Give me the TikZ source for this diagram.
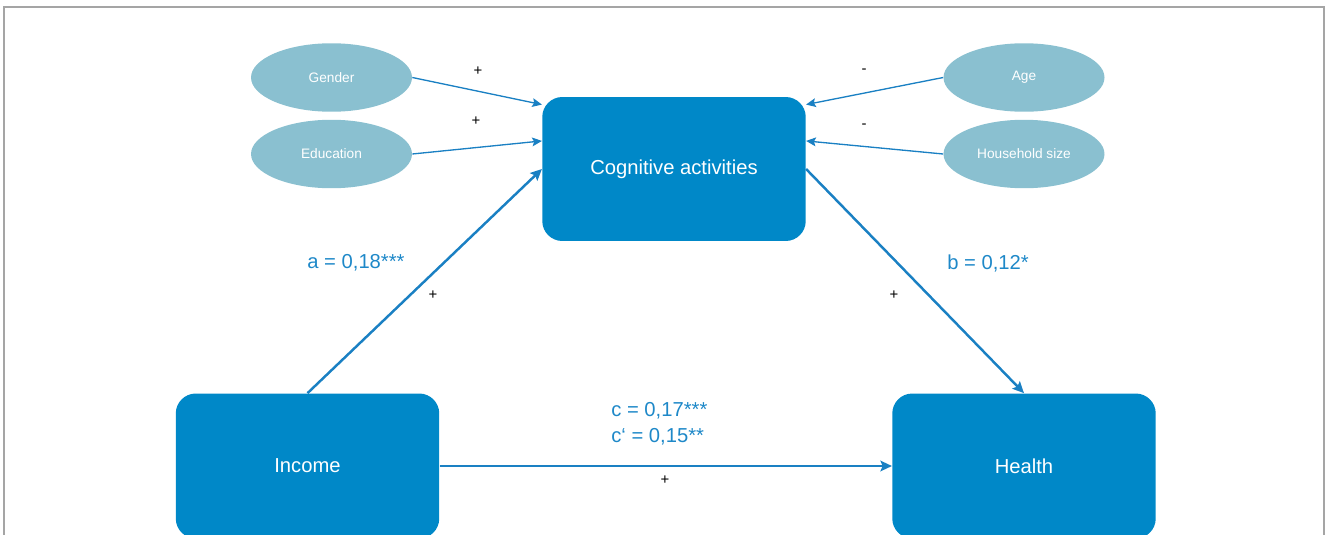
\documentclass[tikz,border=0pt]{standalone}
\usepackage{fontspec}
\setmainfont{Liberation Sans}
\usetikzlibrary{shapes.geometric}
\usetikzlibrary{arrows.meta}

\definecolor{boxblue}{RGB}{0,136,200}
\definecolor{ovalblue}{RGB}{138,192,208}
\definecolor{lineblue}{RGB}{26,128,195}
\definecolor{textblue}{RGB}{30,136,200}
\definecolor{framegray}{RGB}{165,165,165}

\begin{document}
\begin{tikzpicture}[
    x=0.02cm, y=-0.02cm,
    var/.style={rectangle,rounded corners=0.4cm,fill=boxblue,text=white,
        minimum width=5.27cm,minimum height=2.9cm,inner sep=0pt,
        font=\fontsize{11.5}{14}\selectfont},
    ctrl/.style={ellipse,fill=ovalblue,text=white,minimum width=3.22cm,
        minimum height=1.37cm,inner sep=0pt,font=\fontsize{7.8}{9}\selectfont},
    coef/.style={text=textblue,font=\fontsize{11.5}{14}\selectfont,inner sep=0pt},
    sign/.style={text=black,font=\fontsize{8.5}{9}\selectfont,inner sep=0pt},
    thin/.style={-{Stealth[length=5.5pt,width=5pt,inset=1pt]},draw=lineblue,fill=lineblue,line width=0.75pt},
    path/.style={-{Stealth[length=6.5pt,width=6pt,inset=1.2pt]},draw=lineblue,fill=lineblue,line width=1.4pt}
]
\useasboundingbox (0,0) rectangle (1328,534);
\clip (0,0) rectangle (1328,534);

% Rahmen (unten offen)
\draw[framegray,line width=0.8pt] (4,545) -- (4,7) -- (1324,7) -- (1324,545);

% Hauptvariablen
\node[var,minimum height=2.88cm] (cog) at (674,169) {\raisebox{-2pt}{Cognitive activities}};
\node[var] (income) at (307.5,466) {Income};
\node[var] (health) at (1024,466) {Health};

% Kontrollvariablen
\node[ctrl] (gender) at (331.5,77.5) {Gender};
\node[ctrl] (edu) at (331.5,154) {Education};
\node[ctrl] (age) at (1024,77.5) {Age};
\node[ctrl] (hh) at (1024,154) {Household size};

% Pfeile der Kontrollvariablen
\draw[thin] (gender.east) -- (cog.154);
\draw[thin] (edu.east) -- (cog.168);
\draw[thin] (age.west) -- (cog.26);
\draw[thin] (hh.west) -- (cog.12);

% Mediationspfade
\draw[path] (income.north) -- (cog.west);
\draw[path] (cog.east) -- (health.north);
\draw[path] (income.east) -- (health.west);

% Koeffizienten
\node[coef] (a) at (356,263) {a = 0,18***};
\node[coef] (b) at (988,263) {b = 0,12*};
\node[coef,anchor=west] (c) at (611,411) {c = 0,17***};
\node[coef,anchor=west] (cc) at (611,437) {c‘ = 0,15**};

% Vorzeichen
\node[sign] (s1) at (478,71) {+};
\node[sign] (s2) at (476,121) {+};
\node[sign] (s3) at (864,71) {-};
\node[sign] (s4) at (864,126) {-};
\node[sign] (s5) at (433,295) {+};
\node[sign] (s6) at (894,295) {+};
\node[sign] (s7) at (665,480) {+};

\end{tikzpicture}
\end{document}
